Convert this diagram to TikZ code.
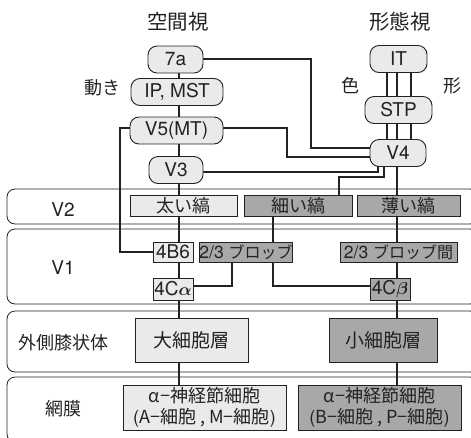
\documentclass[tikz,border=0pt]{standalone}
\usepackage{amsmath}
\usepackage{fontspec}
\setmainfont{TeX Gyre Heros}
\newfontfamily\cjk{Noto Sans CJK JP}
\usetikzlibrary{calc}
\definecolor{lg}{HTML}{EAEAEA}
\definecolor{mg}{HTML}{A8A8A8}
\definecolor{ink}{HTML}{222222}
\begin{document}
\begin{tikzpicture}[x=1pt,y=-1pt,
  every node/.style={text=ink,inner sep=0pt,font=\fontsize{19}{21}\selectfont},
  rnode/.style={draw=ink,line width=0.9pt,fill=lg,rounded corners=9pt,minimum height=27pt},
  sbox/.style={draw=ink,line width=0.8pt,minimum height=21pt},
  band/.style={draw=ink,line width=0.8pt,rounded corners=8pt},
  conn/.style={draw=ink,line width=2.2pt},
  lbl/.style={font=\cjk\fontsize{18}{20}\selectfont},
  blobtxt/.style={font=\fontsize{17.5}{19}\selectfont}]
\useasboundingbox (0,0) rectangle (471,437);
\begin{scope}
\clip (0,0) rectangle (471,437);
% bands
\draw[band] (7,189) rectangle (478,224);
\draw[band] (7,229) rectangle (478,304);
\draw[band] (7,311) rectangle (478,372);
\draw[band] (7,377) rectangle (478,442);
\end{scope}
% titles
\node[lbl,font=\cjk\fontsize{20.5}{22}\selectfont] (t1) at (178,22) {空間視};
\node[lbl,font=\cjk\fontsize{20.5}{22}\selectfont] (t2) at (400,22) {形態視};
\node[lbl] (ugoki) at (102,88) {動き};
\node[lbl] (iro) at (350,86) {色};
\node[lbl] (katachi) at (452,86) {形};
\node (lv2) at (63,210) {V2};
\node (lv1) at (63,268) {V1};
\node[lbl] (llgn) at (63,343) {外側膝状体};
\node[lbl] (lret) at (63,409) {網膜};
% coordinates for connectors
\coordinate (c7r) at (311,59);
\coordinate (c7d) at (311,148);
\coordinate (c5r) at (287,128);
\coordinate (c5d) at (287,157);
\coordinate (c3r) at (378,172);
\coordinate (c5l) at (120,128);
\coordinate (c5ld) at (120,252);
\coordinate (cv4a) at (384,177);
\coordinate (cv4b) at (339,177);
\coordinate (cbl) at (232,286);
\coordinate (cbr) at (273,286);
% connectors (drawn first, behind nodes)
\draw[conn] (179,59) -- (179,400);
\draw[conn] (397,60) -- (397,400);
\draw[conn] (387,60) -- (387,153);
\draw[conn] (411,60) -- (411,153);
\draw[conn] (203,59) -- (c7r) -- (c7d) -- (372,148);
\draw[conn] (223,128) -- (c5r) -- (c5d) -- (372,157);
\draw[conn] (203,172) -- (c3r) -- (378,163);
\draw[conn] (130,128) -- (c5l) -- (c5ld) -- (153,252);
\draw[conn] (384,163) -- (cv4a) -- (cv4b) -- (339,200);
\draw[conn] (273,210) -- (273,252);
\draw[conn] (232,255) -- (cbl) -- (193,286);
\draw[conn] (273,255) -- (cbr) -- (370,286);
% rounded nodes
\node[rnode,minimum width=55pt] (n7a) at (175.5,59.5) {7a};
\node[rnode,minimum width=92pt] (nip) at (177,92) {IP, MST};
\node[rnode,minimum width=93pt] (nv5) at (176.5,130.5) {V5(MT)};
\node[rnode,minimum width=54pt] (nv3) at (176,170) {V3};
\node[rnode,minimum width=57pt] (nit) at (398.5,59) {IT};
\node[rnode,minimum width=67pt] (nstp) at (398.5,110) {STP};
\node[rnode,minimum width=56pt] (nv4) at (398,153) {V4};
% V2 boxes
\node[sbox,fill=lg,minimum width=107pt,lbl] (thick) at (183.5,205.5) {太い縞};
\node[sbox,fill=mg,minimum width=108pt,lbl] (thin) at (298,205.5) {細い縞};
\node[sbox,fill=mg,minimum width=103pt,lbl] (pale) at (408.5,205.5) {薄い縞};
% V1 boxes
\node[sbox,fill=lg,minimum width=40pt,minimum height=20pt] (b4b) at (173,252) {4B6};
\node[sbox,fill=mg,minimum width=92pt,minimum height=20pt,blobtxt] (blob) at (246,252) {2/3 {\cjk\fontsize{16}{18}\selectfont ブロッブ}};
\node[sbox,fill=mg,minimum width=117pt,minimum height=20pt,blobtxt] (iblob) at (398.5,252) {2/3 {\cjk\fontsize{16}{18}\selectfont ブロッブ間}};
\node[sbox,fill=lg,minimum width=40pt,minimum height=22pt] (b4ca) at (173,289) {4C$\boldsymbol{\alpha}$};
\node[sbox,fill=mg,minimum width=40pt,minimum height=22pt] (b4cb) at (390,289) {4C$\boldsymbol{\beta}$};
% LGN
\node[sbox,fill=lg,minimum width=113pt,minimum height=44pt,lbl,font=\cjk\fontsize{19}{21}\selectfont] (mag) at (191.5,340) {大細胞層};
\node[sbox,fill=mg,minimum width=108pt,minimum height=44pt,lbl,font=\cjk\fontsize{19}{21}\selectfont] (par) at (383,340) {小細胞層};
% retina
\node[sbox,fill=lg,minimum width=163pt,minimum height=45pt,align=center,font=\fontsize{18}{21}\selectfont] (rl) at (204.5,407.5) {{\cjk α−神経節細胞}\\({\cjk A−細胞 , M−細胞})};
\node[sbox,fill=mg,minimum width=163pt,minimum height=45pt,align=center,font=\fontsize{18}{21}\selectfont] (rr) at (379.5,407.5) {{\cjk α−神経節細胞}\\({\cjk B−細胞 , P−細胞})};
\end{tikzpicture}
\end{document}
